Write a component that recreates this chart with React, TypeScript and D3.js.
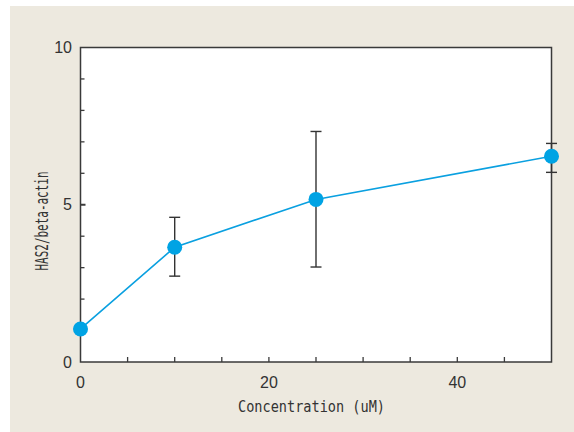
import React, { useEffect, useRef } from "react";
import * as d3 from "d3";

// concentration (uM) vs HAS2/beta-actin
const concentrations = [0, 10, 25, 50];
const ratios = [1.05, 3.65, 5.17, 6.54];
const errHigh = [1.05, 4.6, 7.33, 6.95];
const errLow = [1.05, 2.73, 3.02, 6.03];
const xTickLabels = [0, 20, 40];
const yTickLabels = [0, 5, 10];

const W = 574;
const H = 432;

const App = () => {
  const ref = useRef<SVGSVGElement>(null);

  useEffect(() => {
    const svg = d3.select(ref.current);
    svg.selectAll("*").remove();

    const x = d3.scaleLinear().domain([0, 50]).range([80.5, 551.5]);
    const y = d3.scaleLinear().domain([0, 10]).range([362, 47.5]);

    // beige backdrop
    svg.append("rect").attr("x", 10).attr("y", 6).attr("width", W - 10).attr("height", H - 6).attr("fill", "#ede9df");

    // plot panel
    svg
      .append("rect")
      .attr("x", x(0))
      .attr("y", y(10))
      .attr("width", x(50) - x(0))
      .attr("height", y(0) - y(10))
      .attr("fill", "#fff")
      .attr("stroke", "#3a3a3a")
      .attr("stroke-width", 1.5);

    // inward ticks
    const tickColor = "#3a3a3a";
    svg
      .selectAll(".xt")
      .data(d3.range(5, 50, 5))
      .enter()
      .append("line")
      .attr("x1", (d) => x(d))
      .attr("x2", (d) => x(d))
      .attr("y1", y(0))
      .attr("y2", y(0) - 5)
      .attr("stroke", tickColor)
      .attr("stroke-width", 1.3);
    svg
      .selectAll(".yt")
      .data(d3.range(1, 10, 1))
      .enter()
      .append("line")
      .attr("x1", x(0))
      .attr("x2", (d) => x(0) + (d === 5 ? 5 : 4))
      .attr("y1", (d) => y(d))
      .attr("y2", (d) => y(d))
      .attr("stroke", tickColor)
      .attr("stroke-width", (d) => (d === 5 ? 2 : 1.3));

    const tickFont = "'Liberation Sans', Arial, sans-serif";
    svg
      .selectAll(".xl")
      .data(xTickLabels)
      .enter()
      .append("text")
      .attr("x", (d) => x(d))
      .attr("y", 388)
      .attr("text-anchor", "middle")
      .attr("font-family", tickFont)
      .attr("font-size", 16)
      .attr("fill", "#333")
      .text((d) => d);
    svg
      .selectAll(".yl")
      .data(yTickLabels)
      .enter()
      .append("text")
      .attr("x", 72)
      .attr("y", (d) => y(d))
      .attr("dy", "0.35em")
      .attr("text-anchor", "end")
      .attr("font-family", tickFont)
      .attr("font-size", 16)
      .attr("fill", "#333")
      .text((d) => d);

    // axis titles
    const titleFont = "'DejaVu Sans Mono', monospace";
    svg
      .append("text")
      .attr("x", 311.5)
      .attr("y", 412)
      .attr("text-anchor", "middle")
      .attr("font-family", titleFont)
      .attr("font-size", 15)
      .attr("textLength", 147)
      .attr("lengthAdjust", "spacingAndGlyphs")
      .attr("fill", "#333")
      .text("Concentration (uM)");
    svg
      .append("text")
      .attr("transform", "translate(48,221) rotate(-90)")
      .attr("text-anchor", "middle")
      .attr("font-family", titleFont)
      .attr("font-size", 17)
      .attr("textLength", 99)
      .attr("lengthAdjust", "spacingAndGlyphs")
      .attr("fill", "#333")
      .text("HAS2/beta-actin");

    const pts = concentrations.map((c, i) => ({ c, v: ratios[i], hi: errHigh[i], lo: errLow[i] }));

    // error bars
    const eb = svg.append("g").attr("stroke", "#333").attr("stroke-width", 1.4);
    pts
      .filter((d) => d.hi !== d.lo)
      .forEach((d) => {
        eb.append("line").attr("x1", x(d.c)).attr("x2", x(d.c)).attr("y1", y(d.hi)).attr("y2", y(d.lo));
        [d.hi, d.lo].forEach((v) =>
          eb.append("line").attr("x1", x(d.c) - 5.5).attr("x2", x(d.c) + 5.5).attr("y1", y(v)).attr("y2", y(v))
        );
      });

    // line + markers
    const line = d3
      .line<{ c: number; v: number }>()
      .x((d) => x(d.c))
      .y((d) => y(d.v));
    svg.append("path").datum(pts).attr("d", line).attr("fill", "none").attr("stroke", "#0aa0e0").attr("stroke-width", 1.6);
    svg
      .selectAll(".pt")
      .data(pts)
      .enter()
      .append("circle")
      .attr("cx", (d) => x(d.c))
      .attr("cy", (d) => y(d.v))
      .attr("r", 7.5)
      .attr("fill", "#00a3e4");
  }, []);

  return (
    <svg ref={ref} width={W} height={H} style={{ position: "absolute", left: 0, top: 0 }}></svg>
  );
};

export default App;
